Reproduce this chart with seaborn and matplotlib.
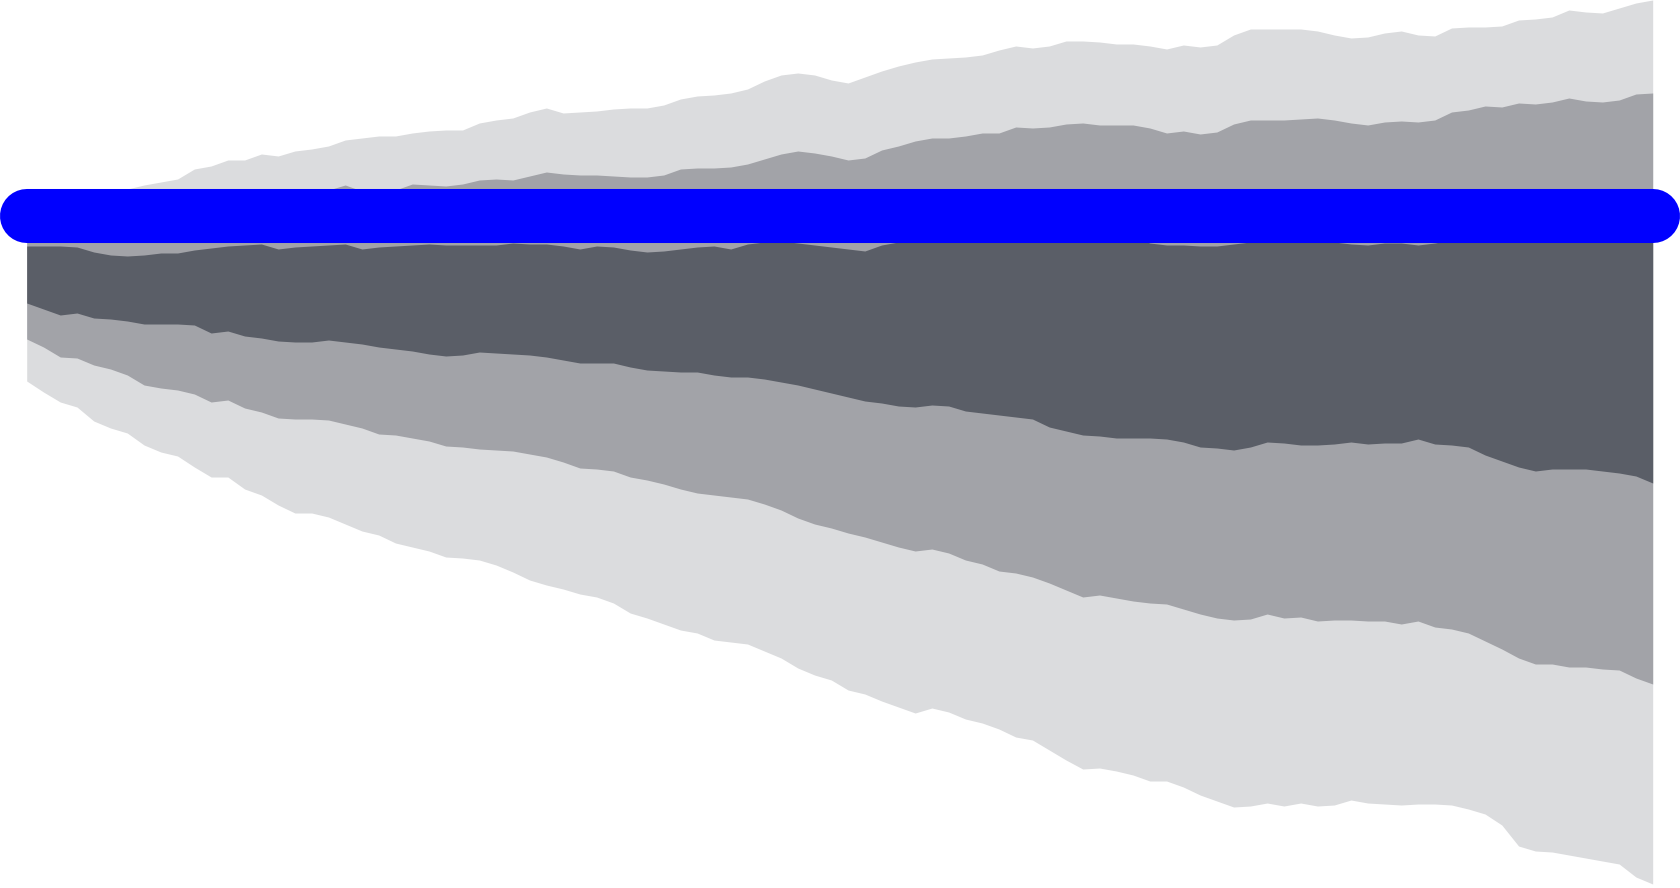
import numpy as np
import pandas as pd
import matplotlib
matplotlib.use("Agg")
import matplotlib.pyplot as plt
import seaborn as sns

# fan chart bands (value axis runs downward)
outer_top = [198, 197, 196, 195, 193, 191,
             189, 185, 182, 179, 169, 166, 160, 160, 154, 156, 151, 149, 146, 140, 138, 136, 136, 133,
             131, 130, 130, 123, 120, 118, 112, 108, 113, 112, 111, 109, 108, 108, 105, 99, 96, 95, 93, 89, 81, 75, 73, 75, 80,
             83, 77, 71, 66, 62, 59, 58, 57, 55, 50, 46, 48, 46, 41, 41, 42, 44, 44, 46, 49, 45, 47, 45, 35, 29,
             29, 29, 29, 31, 35, 38, 37, 33, 31, 35, 36, 28, 27, 27, 26, 20, 19, 17, 10, 12, 13, 8, 3, 0]
mid_top = [218, 217, 215, 214, 213, 212, 210, 208, 206, 204, 200, 198, 195, 196, 193, 195, 192, 191, 190, 185, 191, 191, 190, 184,
           185, 186, 184, 180, 179, 180, 176, 172, 174, 175, 175, 176, 177, 177, 175, 169, 168, 168, 167, 164, 159, 154, 151, 153, 156,
           160, 158, 150, 146, 141, 138, 138, 136, 133, 133, 127, 128, 127, 124, 123, 125, 125, 125, 128, 133, 131, 134, 132, 124, 120,
           120, 120, 119, 118, 120, 123, 125, 122, 121, 122, 120, 112, 110, 106, 107, 103, 104, 102, 98, 101, 102, 100, 94, 93]
inner_top = [246, 246, 246, 247, 252, 255, 256, 255, 253, 253, 250, 248, 246, 245, 244, 249, 247, 246, 245, 244, 249, 247, 246, 245,
             244, 245, 245, 245, 245, 243, 244, 244, 246, 249, 246, 247, 250, 252, 251, 249, 247, 246, 249, 244, 242, 241, 243, 245, 247,
             249, 251, 245, 242, 240, 239, 239, 238, 237, 237, 235, 236, 236, 235, 234, 235, 236, 237, 243, 245, 245, 246, 246, 244, 242,
             241, 240, 240, 241, 242, 244, 245, 243, 243, 245, 243, 240, 239, 238, 238, 237, 237, 237, 236, 237, 237, 237, 236, 236]
inner_bot = [303, 309, 315, 313, 318, 319, 321, 324, 324, 324, 325, 333, 331, 336, 338, 341, 342, 342, 340, 342, 344, 347, 349, 351,
             354, 356, 355, 352, 353, 354, 355, 357, 360, 363, 363, 363, 367, 370, 371, 372, 372, 375, 377, 377, 379, 382, 385, 389, 393,
             397, 401, 403, 406, 407, 405, 406, 411, 413, 415, 417, 419, 427, 431, 435, 436, 438, 438, 438, 439, 442, 447, 448, 450, 447,
             442, 443, 445, 445, 444, 442, 444, 443, 443, 439, 444, 445, 447, 455, 461, 467, 471, 469, 469, 469, 471, 473, 476, 483]
mid_bot = [339, 347, 357, 358, 365, 369, 375, 385, 388, 390, 394, 402, 400, 408, 412, 418, 419, 419, 420, 424, 428, 434, 435, 438,
           441, 446, 447, 449, 450, 451, 454, 457, 462, 468, 469, 471, 477, 480, 484, 489, 493, 495, 497, 499, 504, 510, 518, 524, 528,
           533, 537, 542, 547, 551, 549, 553, 560, 564, 571, 573, 577, 583, 590, 597, 595, 598, 601, 603, 604, 609, 614, 618, 620, 619,
           614, 618, 617, 621, 620, 620, 621, 621, 624, 621, 627, 629, 633, 641, 649, 658, 664, 664, 667, 667, 669, 670, 678, 684]
outer_bot = [381, 392, 402, 407, 421, 428, 433, 445, 452, 456, 467, 477, 477, 489, 495, 505, 513, 513, 517, 524, 531, 535, 543, 547,
             551, 557, 558, 560, 565, 572, 580, 585, 589, 594, 597, 603, 613, 618, 624, 630, 633, 640, 642, 644, 651, 658, 668, 675, 680,
             690, 694, 701, 707, 713, 708, 712, 719, 723, 729, 737, 740, 750, 760, 769, 768, 771, 775, 781, 781, 787, 795, 801, 807, 806,
             803, 806, 803, 806, 805, 800, 803, 804, 805, 804, 804, 805, 809, 814, 825, 846, 851, 852, 855, 858, 861, 864, 877, 884]
target_level = 216

steps = np.arange(len(outer_top))

sns.set_theme(style="white")
fig = plt.figure(figsize=(16.8, 8.88), dpi=100)
ax = fig.add_axes([0, 0, 1, 1])

# bands, from widest to narrowest
ax.fill_between(steps, outer_top, outer_bot, color="#dbdcde", linewidth=0)
ax.fill_between(steps, mid_top, mid_bot, color="#a2a3a8", linewidth=0)
ax.fill_between(steps, inner_top, inner_bot, color="#5a5e67", linewidth=0)

# thick blue reference line across the whole range
line_df = pd.DataFrame({"step": [steps[0], steps[-1]], "level": [target_level, target_level]})
sns.lineplot(data=line_df, x="step", y="level", ax=ax, color="#0000ff",
             linewidth=38.9, solid_capstyle="round", clip_on=False)

ax.set_xlim(-1.593, 98.63)
ax.set_ylim(888, 0)
ax.axis("off")

fig.savefig("out.png", dpi=100)
